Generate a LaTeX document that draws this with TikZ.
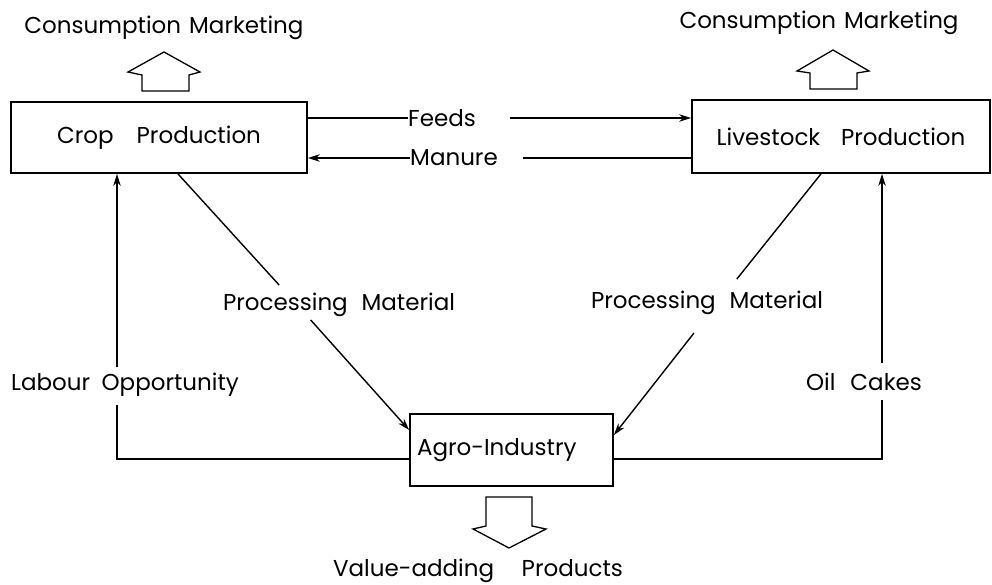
\documentclass[tikz,border=0pt]{standalone}
\usepackage{fontspec}
\setmainfont{Poppins}
\usetikzlibrary{arrows.meta,calc}
\newcommand{\wsp}[1]{\hspace{#1em}}
\begin{document}
\begin{tikzpicture}[x=1pt,y=-1pt,
  font=\fontsize{23}{27}\selectfont,
  box/.style={draw,line width=1.8pt,inner sep=0pt,align=center},
  flow/.style={line width=1.4pt},
  tip/.style={-{Stealth[length=12pt,width=7.5pt]}},
  lbl/.style={inner sep=0pt},
  bigarrow/.style={draw,line width=1.3pt,line join=miter,fill=white}]
\useasboundingbox (0,0) rectangle (992,585);

% production units
\node[box,minimum width=296pt,minimum height=71pt] (crop) at (159,137.5) {\raisebox{-3pt}{Crop\wsp{1}Production}};
\node[box,minimum width=298pt,minimum height=73pt] (live) at (841,136.5) {\raisebox{-3pt}{Livestock\wsp{0.9}Production}};
\node[box,minimum width=203pt,minimum height=72pt,text width=189pt,align=left] (agro) at (511.5,450) {\raisebox{-4pt}{Agro-Industry}};

% outlets
\node[lbl] (cm1) at (164,28) {Consumption\wsp{0.35}Marketing};
\node[lbl] (cm2) at (819,23) {Consumption\wsp{0.35}Marketing};
\node[lbl] (vap) at (478,571) {Value-adding\wsp{1.2}Products};

% hollow block arrows
\draw[bigarrow] (142,91)--(142,75)--(128,72)--(164,52)--(200,72)--(189,75)--(189,91)--cycle;
\draw[bigarrow] (810,89)--(810,73)--(797,71)--(833,50)--(869,71)--(857,73)--(857,89)--cycle;
\draw[bigarrow] (486,497)--(486,526)--(473,529)--(509,548)--(546,529)--(532,526)--(532,497)--cycle;

% feeds and manure exchange
\node[lbl,anchor=west] (feeds) at (408,118) {Feeds};
\node[lbl,anchor=west] (manure) at (410,158) {Manure};
\draw[flow] (crop.east |- feeds) -- (feeds.west);
\draw[flow,tip,shorten <=34pt] (feeds.east) -- (live.west |- feeds);
\draw[flow,tip] (manure.west) -- (crop.east |- manure);
\draw[flow,shorten <=25pt] (manure.east) -- (live.west |- manure);

% processing material flows
\coordinate (ca) at (178,173);
\coordinate (ai) at (410,430);
\path (ca) -- (ai) coordinate[pos=0.436] (ga) coordinate[pos=0.572] (gb);
\draw[flow] (crop.south -| ca) -- (ga);
\draw[flow,tip] (gb) -- (agro.west |- ai);
\node[lbl] (pm1) at (339,305) {Processing\wsp{0.6}Material};

\coordinate (lb) at (821,173);
\coordinate (ri) at (613,435);
\path (lb) -- (ri) coordinate[pos=0.405] (gc) coordinate[pos=0.611] (gd);
\draw[flow] (live.south -| lb) -- (gc);
\draw[flow,tip] (gd) -- (agro.east |- ri);
\node[lbl] (pm2) at (707,303) {Processing\wsp{0.6}Material};

% return flows from agro-industry
\coordinate (lo) at (117,459);
\node[lbl] (labour) at (125,385) {Labour\wsp{0.5}Opportunity};
\draw[flow] (agro.west |- lo) -- (lo) -- (117,405);
\draw[flow,tip] (117,367) -- (crop.south -| lo);

\coordinate (oc) at (882,459);
\node[lbl] (oil) at (864,382) {Oil\wsp{0.65}Cakes};
\draw[flow] (agro.east |- oc) -- (oc) -- (882,400);
\draw[flow,tip] (882,363) -- (live.south -| oc);
\end{tikzpicture}
\end{document}
